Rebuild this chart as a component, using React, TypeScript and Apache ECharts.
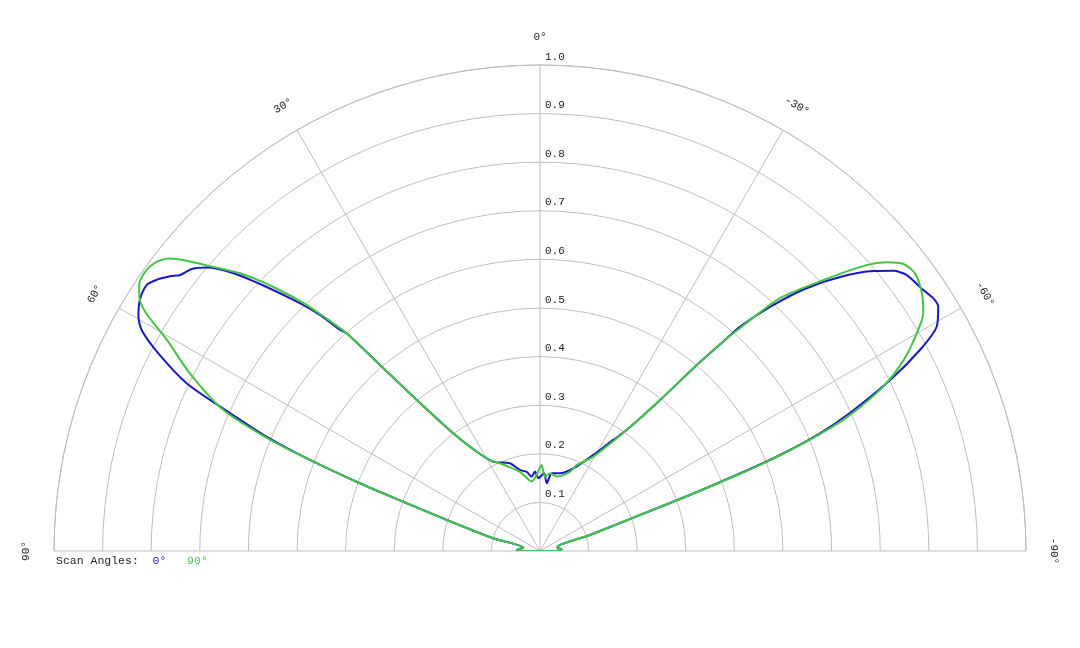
import React, { useEffect, useRef } from 'react'
import * as echarts from 'echarts'

// Scan angle 0° (blue), angle in degrees from broadside, normalised gain
const blueAngles = [
    -90, -86, -78, -72.3, -70.2, -69.5, -68.8, -68.2, -67.2, -66.0, -64.0, -62.1, -60.5, -58.5, -57.3,
    -55.5, -53.0, -51.6, -50.0, -47.6, -45.4, -43.5, -41.7, -41.3, -40.0, -38.5, -35.6, -33.4, -29.0,
    -21.9, -14.4, -8.6, -5.7, -3.0, 1.3, 3.6, 6.4, 9.5, 14.0, 18.9, 27.6, 32.5, 36.4, 39.2, 40.7, 41.6,
    42.1, 43.0, 44.1, 46.0, 47.8, 49.6, 51.0, 52.5, 53.4, 54.7, 55.9, 57.9, 59.7, 61.0, 62.6, 64.6, 65.7,
    67.3, 68.4, 69.4, 70.2, 71.6, 74.8, 78.8, 87.5, 90,
]
const blueGain = [
    0.032, 0.045, 0.036, 0.108, 0.219, 0.329, 0.441, 0.532, 0.625, 0.698, 0.801, 0.885, 0.938, 0.961, 0.962,
    0.953, 0.944, 0.928, 0.896, 0.836, 0.77, 0.698, 0.618, 0.582, 0.491, 0.397, 0.306, 0.274, 0.226,
    0.183, 0.165, 0.162, 0.14, 0.16, 0.15, 0.164, 0.154, 0.165, 0.172, 0.191, 0.207, 0.242, 0.301, 0.401, 0.505, 0.599,
    0.613, 0.664, 0.71, 0.782, 0.851, 0.9, 0.922, 0.933, 0.948, 0.966, 0.977, 0.972, 0.957, 0.937, 0.885, 0.805, 0.722,
    0.61, 0.509, 0.396, 0.299, 0.202, 0.1, 0.035, 0.048, 0.031,
]

// Scan angle 90° (green)
const greenAngles = [
    -90, -86, -78, -72.3, -70.2, -69.5, -68.9, -68.3, -67.4, -66.3, -64.4, -62.3, -60.0, -58.2, -56.0,
    -53.5, -51.7, -50.2, -48.8, -46.3, -43.5, -41.9, -41.3, -40.0, -38.5, -35.6, -29.5, -23.1, -20.7,
    -12.7, -7.3, -3.8, -1.1, 2.5, 6.8, 14.2, 24.5, 28.8, 32.5, 36.4, 39.2, 40.7, 41.6, 41.9, 43.5, 45.3,
    47.2, 49.2, 50.6, 51.8, 53.2, 54.8, 56.4, 57.7, 58.9, 60.5, 63.1, 66.0, 67.6, 68.4, 69.4, 70.2, 71.6,
    74.8, 78.8, 87.5, 90,
]
const greenGain = [
    0.032, 0.045, 0.036, 0.108, 0.219, 0.329, 0.44, 0.53, 0.62, 0.697, 0.783, 0.845, 0.895, 0.928, 0.948,
    0.96, 0.953, 0.928, 0.893, 0.807, 0.717, 0.616, 0.582, 0.491, 0.397, 0.306, 0.223, 0.192, 0.174,
    0.157, 0.161, 0.153, 0.177, 0.157, 0.144, 0.168, 0.198, 0.214, 0.242, 0.301, 0.401, 0.505, 0.599, 0.616, 0.698, 0.773,
    0.841, 0.897, 0.941, 0.973, 0.99, 0.995, 0.99, 0.975, 0.946, 0.882, 0.808, 0.713, 0.601, 0.509, 0.396, 0.299, 0.202,
    0.1, 0.035, 0.048, 0.031,
]

const angleTicks = [90, 60, 30, 0, -30, -60, -90]
const radiusTicks = [0.1, 0.2, 0.3, 0.4, 0.5, 0.6, 0.7, 0.8, 0.9, 1.0]
const scanLabels = ['0°', '90°']

const BLUE = '#1818c4'
const GREEN = '#44c444'
const GRID = '#bdbdbd'
const FONT = "'Courier New', 'Liberation Mono', monospace"

// plot geometry (px)
const CX = 540
const CY = 551
const R = 486

// polar data is [radius, angle]; the first point is repeated to close the trace
const toPolar = (angles: number[], gain: number[]) => {
    const pts = angles.map((a, i) => [gain[i], a])
    pts.push(pts[0])
    return pts
}

const App: React.FC = () => {
    const chartRef = useRef<HTMLDivElement | null>(null)

    useEffect(() => {
        if (!chartRef.current) return
        const chart = echarts.init(chartRef.current, undefined, { renderer: 'svg' })

        const rad = Math.PI / 180
        const angleLabels = angleTicks.map((a) => ({
            type: 'text',
            x: CX - 514 * Math.sin(a * rad),
            y: CY - 514 * Math.cos(a * rad),
            rotation: a * rad,
            style: {
                text: `${a}°`,
                fill: '#222',
                font: `11px ${FONT}`,
                align: 'center',
                verticalAlign: 'middle',
            },
        }))

        const radiusLabels = radiusTicks.map((v) => ({
            type: 'text',
            x: CX + 5,
            y: CY - v * R - 8.5,
            style: {
                text: v.toFixed(1),
                fill: '#222',
                font: `11px ${FONT}`,
                align: 'left',
                verticalAlign: 'middle',
            },
        }))

        const legend = {
            type: 'text',
            x: 56,
            y: 560,
            style: {
                text: `Scan Angles:  {b|${scanLabels[0]}}   {g|${scanLabels[1]}}`,
                fill: '#222',
                font: `11.5px ${FONT}`,
                verticalAlign: 'middle',
                rich: {
                    b: { fill: '#2020b0', font: `11.5px ${FONT}` },
                    g: { fill: '#55c455', font: `11.5px ${FONT}` },
                },
            },
        }

        const options = {
            animation: false,
            polar: {
                center: [CX, CY],
                radius: R,
            },
            angleAxis: {
                type: 'value',
                min: -90,
                max: 90,
                interval: 30,
                startAngle: 0,
                endAngle: 180,
                clockwise: false,
                axisLine: { show: true, lineStyle: { color: GRID, width: 1 } },
                axisTick: { show: false },
                axisLabel: { show: false },
                splitLine: { show: true, lineStyle: { color: GRID, width: 1 } },
            },
            radiusAxis: {
                type: 'value',
                min: 0,
                max: 1,
                interval: 0.1,
                axisLine: { show: false },
                axisTick: { show: false },
                axisLabel: { show: false },
                splitLine: { show: true, lineStyle: { color: GRID, width: 1 } },
            },
            series: [
                {
                    name: '0°',
                    type: 'line',
                    coordinateSystem: 'polar',
                    data: toPolar(blueAngles, blueGain),
                    showSymbol: false,
                    smooth: 0.25,
                    lineStyle: { color: BLUE, width: 2 },
                },
                {
                    name: '90°',
                    type: 'line',
                    coordinateSystem: 'polar',
                    data: toPolar(greenAngles, greenGain),
                    showSymbol: false,
                    smooth: 0.25,
                    lineStyle: { color: GREEN, width: 2 },
                },
            ],
            graphic: [...angleLabels, ...radiusLabels, legend],
        }

        chart.setOption(options as any)

        return () => {
            chart.dispose()
        }
    }, [])

    return <div ref={chartRef} style={{ position: 'fixed', left: 0, top: 0, width: 1080, height: 648 }} />
}

export default App
